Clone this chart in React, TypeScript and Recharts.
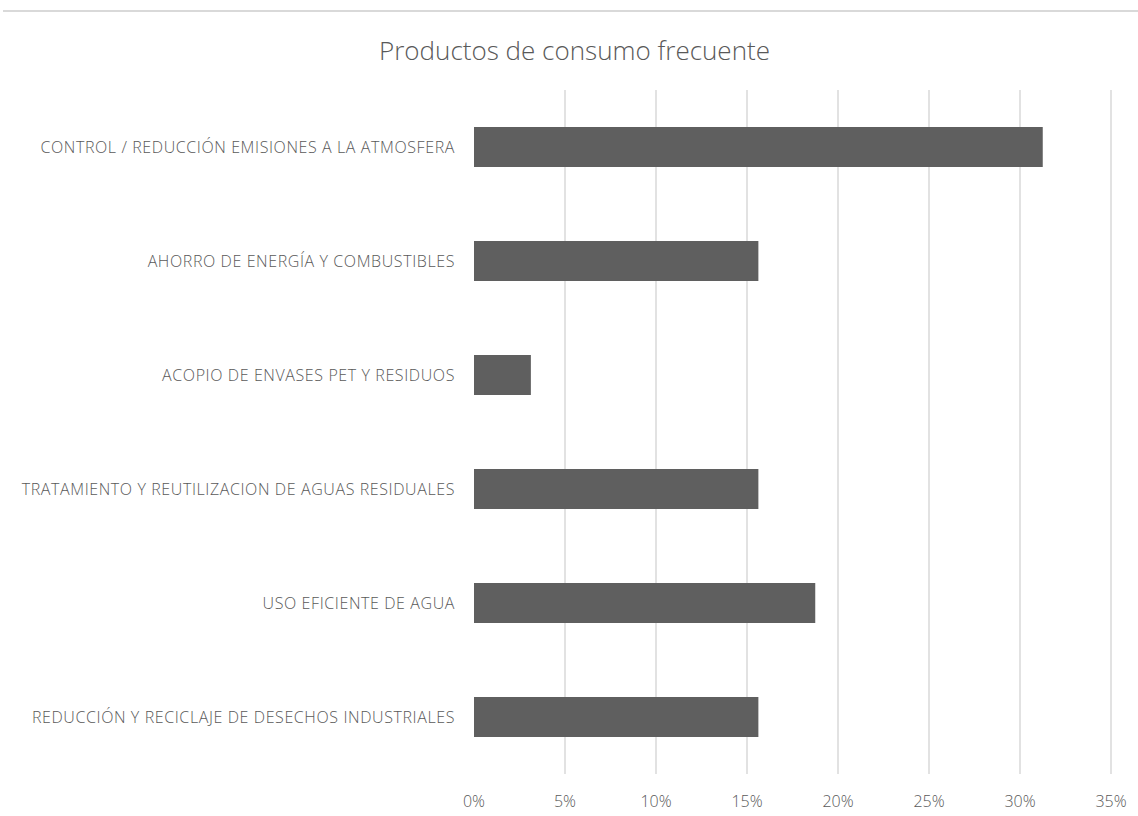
import { BarChart, Bar, XAxis, YAxis, CartesianGrid } from 'recharts'

const categories = [
  'CONTROL / REDUCCIÓN EMISIONES A LA ATMOSFERA',
  'AHORRO DE ENERGÍA Y COMBUSTIBLES',
  'ACOPIO DE ENVASES PET Y RESIDUOS',
  'TRATAMIENTO Y REUTILIZACION DE AGUAS RESIDUALES',
  'USO EFICIENTE DE AGUA',
  'REDUCCIÓN Y RECICLAJE DE DESECHOS INDUSTRIALES',
]
const shares = [0.3125, 0.15625, 0.03125, 0.15625, 0.1875, 0.15625]
const xTicks = [0, 0.05, 0.1, 0.15, 0.2, 0.25, 0.3, 0.35]

const data = categories.map((name, i) => ({ name, value: shares[i] }))

const FONT = '"Open Sans", sans-serif'
const GREY = '#595959'

function YTick({ x, y, payload }: { x: number; y: number; payload: { value: string } }) {
  return (
    <text x={x - 11} y={y} textAnchor="end" dominantBaseline="central" fill={GREY}
      fontSize={16} fontWeight={300} fontFamily={FONT} letterSpacing={0.6}>
      {payload.value}
    </text>
  )
}

function XTick({ x, payload }: { x: number; y: number; payload: { value: number } }) {
  return (
    <text x={x} y={801} textAnchor="middle" dominantBaseline="central" fill={GREY}
      fontSize={16} fontWeight={300} fontFamily={FONT}>
      {`${Math.round(payload.value * 100)}%`}
    </text>
  )
}

export default function App() {
  return (
    <div style={{ position: 'absolute', left: 0, top: 0, width: 1138, height: 816, background: '#fff', overflow: 'hidden' }}>
      <div style={{ position: 'absolute', left: 3, right: 0, top: 10, height: 2, background: '#d9d9d9' }} />
      <div style={{ position: 'absolute', left: 0, width: 1149, top: 32, textAlign: 'center', fontFamily: FONT, fontWeight: 300, fontSize: 26, color: GREY, lineHeight: '36px' }}>
        Productos de consumo frecuente
      </div>
      <BarChart layout="vertical" width={1138} height={816} data={data}
        margin={{ top: 90, right: 27, bottom: 0, left: 0 }}>
        <CartesianGrid horizontal={false} stroke="#d9d9d9" strokeWidth={1.5}
          verticalValues={xTicks.slice(1)} />
        <XAxis type="number" domain={[0, 0.35]} ticks={xTicks} axisLine={false} tickLine={false}
          height={42} tick={XTick as any} interval={0} />
        <YAxis type="category" dataKey="name" width={474} axisLine={false} tickLine={false}
          tick={YTick as any} interval={0} />
        <Bar dataKey="value" fill="#5f5f5f" barSize={40} isAnimationActive={false} />
      </BarChart>
    </div>
  )
}
